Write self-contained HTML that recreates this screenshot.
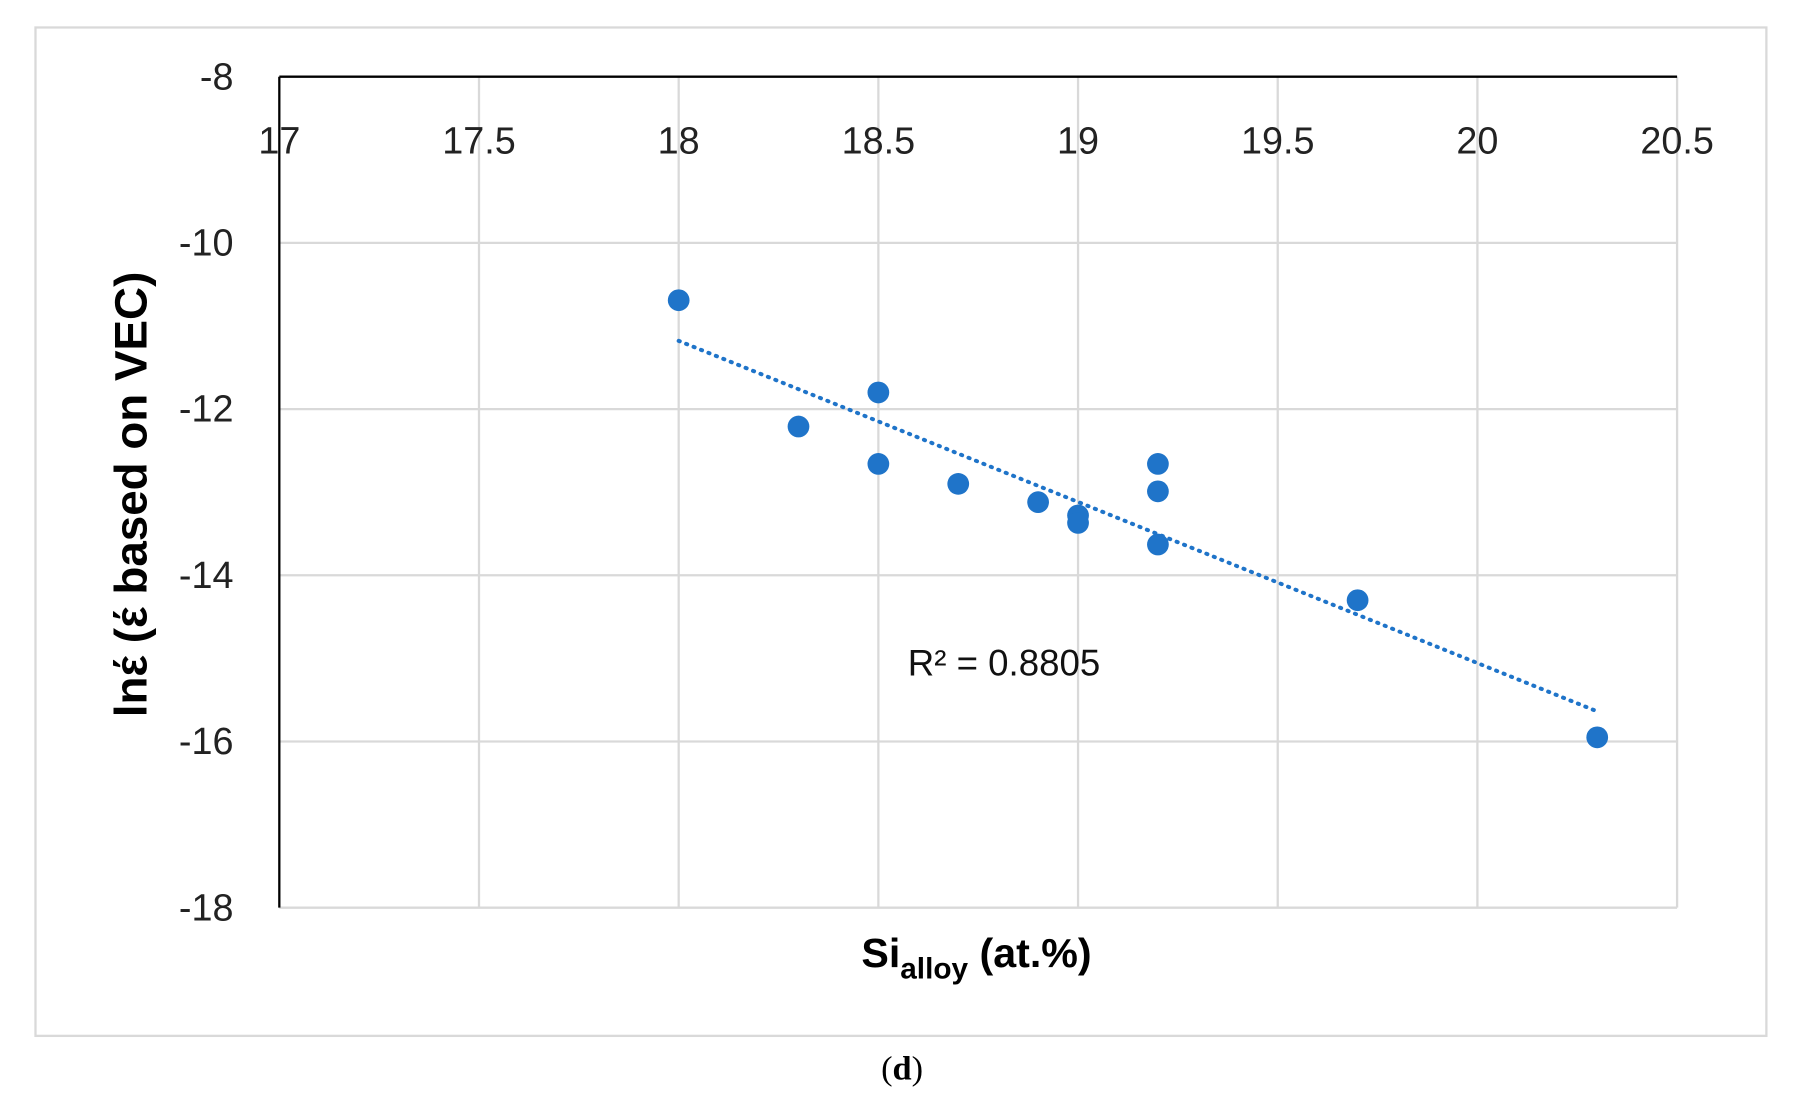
<!DOCTYPE html>
<html><head><meta charset="utf-8"><style>
html,body{margin:0;padding:0;background:#fff;}
svg{display:block;}
text{font-family:"Liberation Sans",sans-serif;}
</style></head><body>
<svg id="chart" width="1795" height="1116" viewBox="0 0 1568 975" preserveAspectRatio="none" xmlns="http://www.w3.org/2000/svg">
<rect x="31" y="24" width="1512" height="881" fill="#fff" stroke="#d9d9d9" stroke-width="2"/>
<g id="grid"></g>
<g id="axes"></g>
<g id="trend"></g>
<g id="points"></g>
<text x="793" y="590" font-size="32" fill="#111">R² = 0.8805</text>
<text x="853" y="845" font-size="36" font-weight="bold" text-anchor="middle" fill="#000">Si<tspan font-size="26" dy="10">alloy</tspan><tspan dy="-10"> (at.%)</tspan></text>
<text transform="translate(128,432) rotate(-90)" font-size="40" font-weight="bold" text-anchor="middle" fill="#000">lnέ (έ based on VEC)</text>
<text x="788" y="943" font-size="30" text-anchor="middle" style="font-family:'Liberation Serif',serif" fill="#000">(<tspan font-weight="bold">d</tspan>)</text>
</svg>
<script>
const xs = [18, 18.3, 18.5, 18.5, 18.7, 18.9, 19, 19, 19.2, 19.2, 19.2, 19.7, 20.3];
const ys = [-10.69, -12.21, -11.8, -12.66, -12.9, -13.12, -13.28, -13.37, -12.66, -12.99, -13.63, -14.3, -15.95];
const xTicks = [17, 17.5, 18, 18.5, 19, 19.5, 20, 20.5];
const yTicks = [-8, -10, -12, -14, -16, -18];
const xTickLabels = ["17", "17.5", "18", "18.5", "19", "19.5", "20", "20.5"];
const yTickLabels = ["-8", "-10", "-12", "-14", "-16", "-18"];

const NS = "http://www.w3.org/2000/svg";
const L = 244, R = 1465, T = 67, B = 793;
function sx(v){ return L + (v - 17) / 3.5 * (R - L); }
function sy(v){ return T + (-8 - v) / 10 * (B - T); }
function mk(tag, attrs, parent){
  const e = document.createElementNS(NS, tag);
  for (const k in attrs) e.setAttribute(k, attrs[k]);
  parent.appendChild(e); return e;
}
const grid = document.getElementById('grid'), axes = document.getElementById('axes');
xTicks.forEach((t, i) => {
  if (i > 0) {
    const g = mk('line', {x1: sx(t), x2: sx(t), y1: T, y2: B, stroke: '#d9d9d9', 'stroke-width': 2}, grid);
    
    
  }
  const tx = mk('text', {x: sx(t), y: 134, 'font-size': 33, 'text-anchor': 'middle', fill: '#222'}, axes);
  tx.textContent = xTickLabels[i];
  
  
});
yTicks.forEach((t, i) => {
  if (i > 0) {
    const g = mk('line', {x1: L, x2: R, y1: sy(t), y2: sy(t), stroke: '#d9d9d9', 'stroke-width': 2}, grid);
    
    
  }
  const tx = mk('text', {x: 204, y: sy(t) + 11, 'font-size': 33, 'text-anchor': 'end', fill: '#222'}, axes);
  tx.textContent = yTickLabels[i];
  
  
});
const xa = mk('line', {x1: L, x2: R, y1: sy(-8), y2: sy(-8), stroke: '#000', 'stroke-width': 2}, axes);


const ya = mk('line', {x1: L, x2: L, y1: T, y2: B, stroke: '#000', 'stroke-width': 2}, axes);



const n = xs.length;
const mx = xs.reduce((a,b)=>a+b,0)/n, my = ys.reduce((a,b)=>a+b,0)/n;
let num = 0, den = 0;
for (let i = 0; i < n; i++){ num += (xs[i]-mx)*(ys[i]-my); den += (xs[i]-mx)**2; }
const slope = num/den, icpt = my - slope*mx;
const x0 = Math.min(...xs), x1 = Math.max(...xs);
const tl = mk('line', {x1: sx(x0), y1: sy(slope*x0+icpt), x2: sx(x1), y2: sy(slope*x1+icpt), stroke: '#1f74c9', 'stroke-width': 3.5, 'stroke-dasharray': '1 6', 'stroke-linecap': 'round'}, document.getElementById('trend'));



const pts = document.getElementById('points');
xs.forEach((x, i) => {
  const c = mk('circle', {cx: sx(x), cy: sy(ys[i]), r: 9.5, fill: '#1f74c9'}, pts);
  
  
});
</script>
</body></html>
